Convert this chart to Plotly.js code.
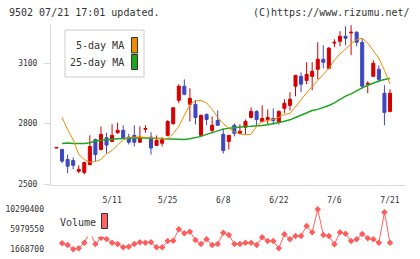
<!DOCTYPE html>
<html>
<head>
<meta charset="utf-8">
<script src="https://cdn.plot.ly/plotly-3.0.1.min.js"></script>
<style>
  html, body { margin: 0; padding: 0; background: #fff; }
  #chart { width: 420px; height: 259px; }
</style>
</head>
<body>
<div id="chart"></div>
<script>
// Trading days shown on the chart
const days = [
  "4/21","4/22","4/23","4/24","4/27","4/28","4/30","5/1","5/7","5/8",
  "5/11","5/12","5/13","5/14","5/15","5/18","5/19","5/20","5/21","5/22",
  "5/25","5/26","5/27","5/28","5/29","6/1","6/2","6/3","6/4","6/5",
  "6/8","6/9","6/10","6/11","6/12","6/15","6/16","6/17","6/18","6/19",
  "6/22","6/23","6/24","6/25","6/26","6/29","6/30","7/1","7/2","7/3",
  "7/6","7/7","7/8","7/9","7/10","7/13","7/14","7/15","7/16","7/17",
  "7/21"
];

// Daily prices (yen)
const open = [
  2679,2672,2622,2617,2564,2558,2597,2721,2672,2730,
  2712,2755,2767,2733,2742,2708,2772,2733,2692,2703,
  2742,2800,2916,2986,2896,2896,2742,2846,2767,2816,
  2747,2712,2792,2752,2782,2831,2861,2811,2821,2826,
  2806,2876,2891,2986,3035,3015,3035,3070,3120,3075,
  3200,3209,3234,3251,3254,3204,2996,3035,3070,2951,
  2861
];
const high = [
  2682,2675,2646,2632,2593,2612,2742,2726,2786,2755,
  2797,2805,2792,2750,2792,2787,2792,2758,2742,2733,
  2817,2881,2996,3020,2976,2916,2846,2851,2836,2866,
  2777,2742,2801,2797,2821,2881,2866,2891,2871,2876,
  2866,2921,2956,3040,3055,3105,3105,3204,3189,3180,
  3219,3259,3284,3289,3259,3224,3011,3115,3090,2991,
  2971
];
const low = [
  2679,2604,2554,2573,2554,2548,2592,2612,2667,2651,
  2708,2750,2725,2697,2687,2705,2755,2647,2689,2687,
  2737,2795,2902,2941,2811,2796,2742,2792,2752,2792,
  2652,2672,2737,2747,2747,2826,2787,2806,2796,2796,
  2796,2851,2866,2936,2956,2996,2966,3020,3075,3070,
  3180,3184,3189,3140,3184,2976,2951,3035,3005,2792,
  2856
];
const close = [
  2682,2614,2589,2593,2573,2607,2687,2647,2747,2694,
  2742,2767,2730,2708,2708,2733,2776,2679,2717,2720,
  2811,2879,2986,2946,2926,2831,2841,2821,2792,2792,
  2667,2742,2752,2762,2811,2861,2821,2826,2831,2816,
  2861,2901,2921,3040,2996,3045,3060,3120,3105,3175,
  3204,3234,3224,3254,3204,2986,3000,3100,3020,2856,
  2951
];

// Moving averages (yen)
const ma5 = [
  null,2831,2771,2720,2647,2622,2609,2612,2622,2651,
  2667,2695,2719,2732,2734,2734,2732,2729,2727,2727,
  2725,2751,2787,2841,2896,2913,2916,2903,2871,2831,
  2801,2777,2759,2749,2745,2747,2787,2811,2816,2821,
  2831,2846,2851,2883,2918,2953,2986,3015,3045,3075,
  3115,3147,3170,3197,3217,3224,3200,3160,3125,3065,
  2998
];
const ma25 = [
  null,2701,2704,2702,2701,2702,2705,2714,2718,2722,
  2723,2725,2727,2729,2730,2730,2729,2728,2727,2726,
  2724,2722,2722,2722,2725,2730,2737,2747,2755,2765,
  2773,2777,2781,2784,2786,2787,2788,2791,2795,2799,
  2806,2812,2819,2831,2843,2855,2865,2871,2880,2890,
  2903,2920,2937,2948,2965,2978,2991,3003,3012,3019,
  3024
];

// Daily volume (shares)
const volume = [
  null,2934000,2574000,1668700,1856000,3076000,5300000,2790000,4154000,3867000,
  3076000,2790000,2071000,2214000,2790000,3149000,3076000,3149000,2071000,2071000,
  3436000,3507000,5951000,5089000,5447000,3652000,2790000,3796000,2574000,2790000,
  5232000,4729000,2790000,2790000,3076000,3076000,2574000,4227000,3436000,3436000,
  1856000,4874000,3796000,4514000,4514000,6669000,5305000,10290400,4729000,4514000,
  2718000,5305000,5016000,3436000,3796000,4945000,4011000,3796000,3076000,9616000,
  3076000
];

// Axis labels
const dateLabels = ["5/11","5/25","6/8","6/22","7/6","7/21"];
const priceTicks = [2500, 2800, 3100];
const titleLeft = "9502 07/21 17:01 updated.";
const titleRight = "(C)https://www.rizumu.net/";

const idx = days.map((d, i) => i);
const volKnown = volume.filter(v => v !== null);
const volMin = Math.min(...volKnown);
const volMax = Math.max(...volKnown);
const volTicks = [volMin, (volMin + volMax) / 2, volMax];

// Figure geometry and pixel -> paper helpers
const W = 420, H = 259, ML = 51, MR = 15, MT = 25, MB = 6;
const PW = W - ML - MR, PH = H - MT - MB;
const px = x => (x - ML) / PW;
const py = y => (H - MB - y) / PH;

const UP = '#d40000', DOWN = '#3f47bf';
const AXIS = '#d9d9d9', TXT = '#333';
const MONO = 'DejaVu Sans Mono, Liberation Mono, monospace';

const traces = [
  {
    type: 'candlestick', x: idx, open: open, high: high, low: low, close: close,
    xaxis: 'x', yaxis: 'y', whiskerwidth: 0,
    increasing: { line: { color: UP, width: 1 }, fillcolor: UP },
    decreasing: { line: { color: DOWN, width: 1 }, fillcolor: DOWN },
    hoverinfo: 'skip'
  },
  {
    type: 'scatter', mode: 'lines', x: idx, y: ma25, xaxis: 'x', yaxis: 'y',
    line: { color: '#1ea51e', width: 1.5 }, hoverinfo: 'skip'
  },
  {
    type: 'scatter', mode: 'lines', x: idx, y: ma5, xaxis: 'x', yaxis: 'y',
    line: { color: '#f08c00', width: 1 }, hoverinfo: 'skip'
  },
  {
    type: 'scatter', mode: 'lines+markers', x: idx, y: volume, xaxis: 'x4', yaxis: 'y2',
    line: { color: '#ff6262', width: 1 },
    marker: { symbol: 'diamond', size: 5, color: '#ff5c5c' },
    connectgaps: false, hoverinfo: 'skip'
  }
];

const xr = [-0.99, 62.7];
const layout = {
  width: W, height: H,
  margin: { l: ML, r: MR, t: MT, b: MB, pad: 0 },
  paper_bgcolor: '#fff', plot_bgcolor: '#fff',
  showlegend: false,
  boxgap: 0.22,
  font: { family: MONO, size: 8, color: TXT },
  xaxis: {
    range: xr, domain: [0, 1], anchor: 'y',
    tickmode: 'array',
    tickvals: dateLabels.map(d => days.indexOf(d)),
    ticktext: dateLabels,
    ticks: '', ticklabelstandoff: 8,
    showline: true, linecolor: AXIS, linewidth: 1,
    showgrid: false, zeroline: false,
    rangeslider: { visible: false }, fixedrange: true
  },
  // evenly spaced tick marks along the price axis bottom
  xaxis2: {
    overlaying: 'x', anchor: 'y', range: [0, 11], tick0: 0, dtick: 1,
    ticks: 'outside', ticklen: 4, tickcolor: AXIS, tickwidth: 1,
    showticklabels: false, showline: false, showgrid: false, zeroline: false
  },
  xaxis3: {
    overlaying: 'x', anchor: 'y', range: [0, 11], tick0: 0, dtick: 1,
    ticks: 'inside', ticklen: 4, tickcolor: AXIS, tickwidth: 1,
    showticklabels: false, showline: false, showgrid: false, zeroline: false
  },
  xaxis4: {
    range: xr, domain: [0, 1], anchor: 'y2', visible: false, fixedrange: true
  },
  yaxis: {
    domain: [py(184.7), 1], range: [2497, 3290], anchor: 'x',
    tickmode: 'array', tickvals: priceTicks,
    ticks: 'outside', ticklen: 6, tickcolor: AXIS, tickwidth: 1,
    ticklabelstandoff: 5,
    showline: true, linecolor: AXIS, linewidth: 1,
    showgrid: false, zeroline: false, fixedrange: true
  },
  yaxis3: {
    overlaying: 'y', anchor: 'x', range: [2497, 3290],
    tickmode: 'array', tickvals: priceTicks,
    ticks: 'inside', ticklen: 3, tickcolor: AXIS, tickwidth: 1,
    showticklabels: false, showline: false, showgrid: false, zeroline: false
  },
  yaxis2: {
    domain: [0, py(205)], range: [849600, 11195700], anchor: 'x4',
    tickmode: 'array', tickvals: volTicks,
    ticktext: volTicks.map(v => String(Math.round(v))),
    ticks: '', ticklabelstandoff: 6,
    showline: false, showgrid: false, zeroline: false, fixedrange: true
  },
  shapes: [
    // price legend box
    { type: 'rect', xref: 'paper', yref: 'paper', layer: 'above',
      x0: px(65), x1: px(144), y0: py(77), y1: py(30),
      fillcolor: '#fff', line: { color: '#cccccc', width: 1 } },
    { type: 'rect', xref: 'paper', yref: 'paper', layer: 'above',
      x0: px(131.5), x1: px(137.5), y0: py(53), y1: py(37.5),
      fillcolor: '#f08c00', line: { color: '#333', width: 1 } },
    { type: 'rect', xref: 'paper', yref: 'paper', layer: 'above',
      x0: px(131.5), x1: px(137.5), y0: py(69.5), y1: py(54.5),
      fillcolor: '#1ea51e', line: { color: '#333', width: 1 } },
    // volume legend box
    { type: 'rect', xref: 'paper', yref: 'paper', layer: 'above',
      x0: px(55), x1: px(112), y0: py(236.5), y1: py(206),
      fillcolor: '#fff', line: { width: 0 } },
    { type: 'rect', xref: 'paper', yref: 'paper', layer: 'above',
      x0: px(101.5), x1: px(107.5), y0: py(228.5), y1: py(213.5),
      fillcolor: '#ff6262', line: { color: '#333', width: 1 } }
  ],
  annotations: [
    { text: titleLeft, xref: 'paper', yref: 'paper', x: px(8), y: py(12.5),
      xanchor: 'left', yanchor: 'middle', showarrow: false, borderpad: 0,
      font: { family: MONO, size: 10, color: TXT } },
    { text: titleRight, xref: 'paper', yref: 'paper', x: px(411), y: py(12.5),
      xanchor: 'right', yanchor: 'middle', showarrow: false, borderpad: 0,
      font: { family: MONO, size: 10, color: TXT } },
    { text: '5-day MA', xref: 'paper', yref: 'paper', x: px(124.5), y: py(46),
      xanchor: 'right', yanchor: 'middle', showarrow: false, borderpad: 0,
      font: { family: MONO, size: 10, color: TXT } },
    { text: '25-day MA', xref: 'paper', yref: 'paper', x: px(124.5), y: py(63),
      xanchor: 'right', yanchor: 'middle', showarrow: false, borderpad: 0,
      font: { family: MONO, size: 10, color: TXT } },
    { text: 'Volume', xref: 'paper', yref: 'paper', x: px(59), y: py(222),
      xanchor: 'left', yanchor: 'middle', showarrow: false, borderpad: 0,
      font: { family: MONO, size: 10, color: TXT } }
  ]
};

Plotly.newPlot('chart', traces, layout, { staticPlot: true, displayModeBar: false });
</script>
</body>
</html>
